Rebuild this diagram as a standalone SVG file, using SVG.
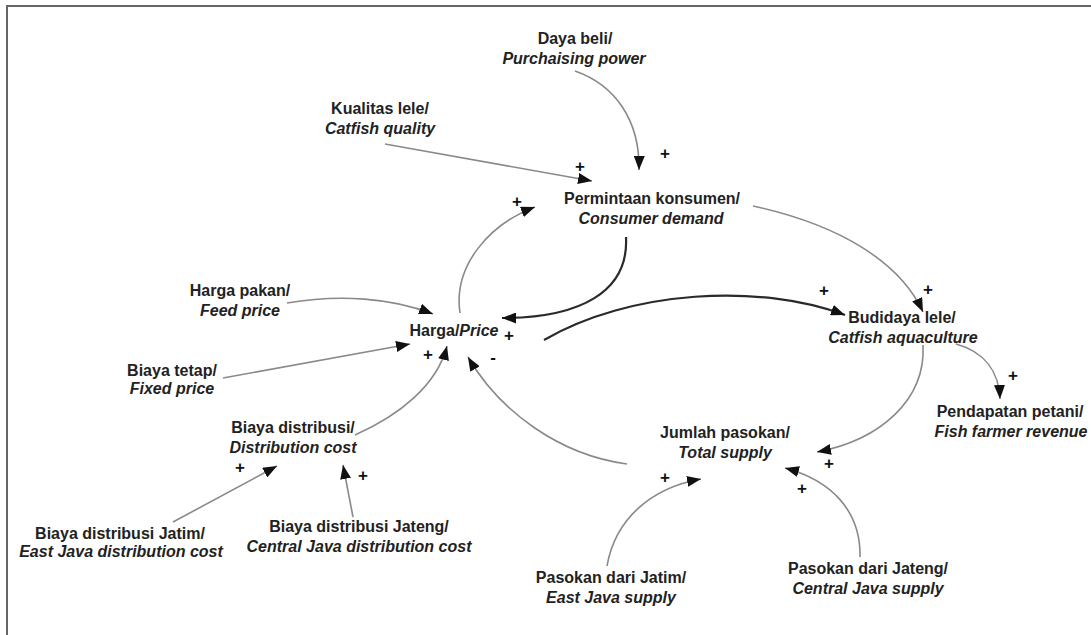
<svg xmlns="http://www.w3.org/2000/svg" width="1091" height="635" viewBox="0 0 1091 635">
<style>
text{font-family:"Liberation Sans",Arial,sans-serif;font-size:16px;font-weight:bold;fill:#222;text-anchor:middle}
.i{font-style:italic}
.s{font-size:17px;fill:#111}
.c{fill:none;stroke:#8a8a8a;stroke-width:1.6}
.t{fill:none;stroke:#2a2a2a;stroke-width:2.2}
</style>
<defs>
<marker id="ah" viewBox="0 0 14 11" refX="14" refY="5.5" markerWidth="14" markerHeight="11" markerUnits="userSpaceOnUse" orient="auto">
<path d="M0,0 L14,5.5 L0,11 z" fill="#111"/>
</marker>
</defs>
<rect width="1091" height="635" fill="#fff"/>
<path d="M7,635 V6 H1091" fill="none" stroke="#666" stroke-width="2"/>
<g id="connectors">
<path class="c" d="M575,71 C615,85 640,120 639,170" marker-end="url(#ah)"/>
<path class="c" d="M385,144 L592,181" marker-end="url(#ah)"/>
<path class="c" d="M460,313 C453,265 490,224 535,207" marker-end="url(#ah)"/>
<path class="t" d="M626,237 C629,292 580,318 502,318" marker-end="url(#ah)"/>
<path class="t" d="M544,340 C630,290 760,283 845,315" marker-end="url(#ah)"/>
<path class="c" d="M753,206 C840,225 900,262 923,312" marker-end="url(#ah)"/>
<path class="c" d="M956,344 C985,352 999,372 1000,399" marker-end="url(#ah)"/>
<path class="c" d="M923,345 C926,400 880,440 817,452" marker-end="url(#ah)"/>
<path class="c" d="M627,464 C560,455 500,412 468,357" marker-end="url(#ah)"/>
<path class="c" d="M607,566 C615,520 650,488 701,479" marker-end="url(#ah)"/>
<path class="c" d="M860,557 C861,510 830,480 785,468" marker-end="url(#ah)"/>
<path class="c" d="M287,303 C340,294 392,298 433,314" marker-end="url(#ah)"/>
<path class="c" d="M223,378 L410,344" marker-end="url(#ah)"/>
<path class="c" d="M355,435 C400,415 437,385 447,346" marker-end="url(#ah)"/>
<path class="c" d="M173,522 L277,466" marker-end="url(#ah)"/>
<path class="c" d="M353,517 L343,465" marker-end="url(#ah)"/>
</g>
<g id="signs">
<text class="s" x="665" y="159">+</text>
<text class="s" x="580" y="172">+</text>
<text class="s" x="517" y="207">+</text>
<text class="s" x="509" y="341">+</text>
<text class="s" x="493" y="363">-</text>
<text class="s" x="824" y="296">+</text>
<text class="s" x="928" y="295">+</text>
<text class="s" x="1013" y="381">+</text>
<text class="s" x="829" y="469">+</text>
<text class="s" x="665" y="483">+</text>
<text class="s" x="802" y="494">+</text>
<text class="s" x="428" y="360">+</text>
<text class="s" x="240" y="473">+</text>
<text class="s" x="363" y="481">+</text>
</g>
<g id="daya-beli"><text x="575" y="44">Daya beli/</text><text class="i" x="574" y="64">Purchaising power</text></g>
<g id="kualitas-lele"><text x="380" y="114">Kualitas lele/</text><text class="i" x="380" y="134">Catfish quality</text></g>
<g id="permintaan"><text x="652" y="204">Permintaan konsumen/</text><text class="i" x="651" y="224">Consumer demand</text></g>
<g id="harga-pakan"><text x="240" y="296">Harga pakan/</text><text class="i" x="240" y="316">Feed price</text></g>
<g id="harga"><text x="454" y="336">Harga/<tspan class="i">Price</tspan></text></g>
<g id="biaya-tetap"><text x="172" y="376">Biaya tetap/</text><text class="i" x="172" y="394">Fixed price</text></g>
<g id="biaya-distribusi"><text x="293" y="433">Biaya distribusi/</text><text class="i" x="293" y="453">Distribution cost</text></g>
<g id="biaya-jatim"><text x="120" y="539">Biaya distribusi Jatim/</text><text class="i" x="121" y="557">East Java distribution cost</text></g>
<g id="biaya-jateng"><text x="359" y="532">Biaya distribusi Jateng/</text><text class="i" x="359" y="552">Central Java distribution cost</text></g>
<g id="budidaya"><text x="902" y="323">Budidaya lele/</text><text class="i" x="903" y="343">Catfish aquaculture</text></g>
<g id="pendapatan"><text x="1010" y="417">Pendapatan petani/</text><text class="i" x="1011" y="437">Fish farmer revenue</text></g>
<g id="jumlah-pasokan"><text x="725" y="438">Jumlah pasokan/</text><text class="i" x="725" y="458">Total supply</text></g>
<g id="pasokan-jatim"><text x="611" y="583">Pasokan dari Jatim/</text><text class="i" x="611" y="603">East Java supply</text></g>
<g id="pasokan-jateng"><text x="868" y="574">Pasokan dari Jateng/</text><text class="i" x="868" y="594">Central Java supply</text></g>
</svg>
